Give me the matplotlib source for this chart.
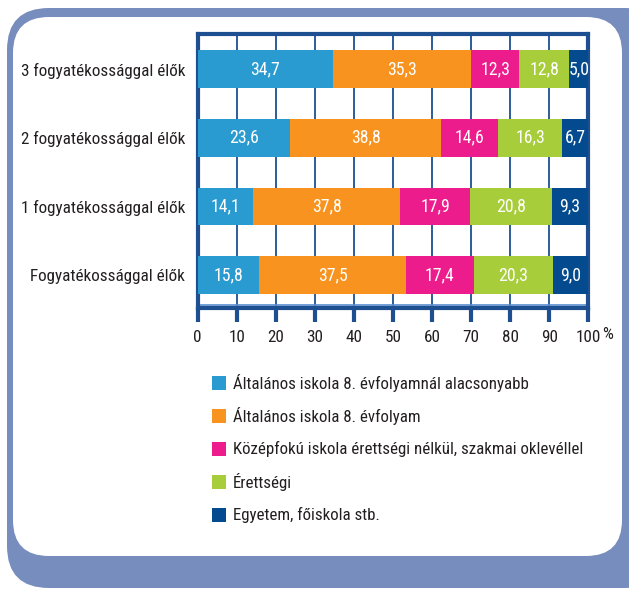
import matplotlib
matplotlib.use("Agg")
import matplotlib.pyplot as plt
from matplotlib.patches import FancyBboxPatch, Rectangle
from matplotlib.transforms import offset_copy
import numpy as np

plt.rcParams['font.family'] = ['Roboto Condensed', 'DejaVu Sans']

# data (bottom to top)
categories = ["Fogyatékossággal élők", "1 fogyatékossággal élők",
              "2 fogyatékossággal élők", "3 fogyatékossággal élők"]
series_names = ["Általános iskola 8. évfolyamnál alacsonyabb",
                "Általános iskola 8. évfolyam",
                "Középfokú iskola érettségi nélkül, szakmai oklevéllel",
                "Érettségi",
                "Egyetem, főiskola stb."]
below8 = [15.8, 14.1, 23.6, 34.7]
general8 = [37.5, 37.8, 38.8, 35.3]
vocational = [17.4, 17.9, 14.6, 12.3]
matura = [20.3, 20.8, 16.3, 12.8]
university = [9.0, 9.3, 6.7, 5.0]
series = [below8, general8, vocational, matura, university]
colors = ["#2a9bd1", "#f7931e", "#ec1c8c", "#a7cd3a", "#034b8e"]
xticks = [0, 10, 20, 30, 40, 50, 60, 70, 80, 90, 100]

dark = "#1d4f91"
frame = "#768dbd"
txt = "#231f20"
fs = 12.3

fig = plt.figure(figsize=(6.29, 5.9), dpi=100, facecolor="white")

# background frames (inch coords so corners stay round)
outer = FancyBboxPatch((0.07, 0.02), 6.6, 5.80, boxstyle="round,pad=0,rounding_size=0.42",
                       transform=fig.dpi_scale_trans, facecolor=frame, edgecolor="none", zorder=0)
inner = FancyBboxPatch((0.13, 0.34), 6.09, 5.39, boxstyle="round,pad=0,rounding_size=0.36",
                       transform=fig.dpi_scale_trans, facecolor="white", edgecolor="none", zorder=1)
fig.patches.extend([outer, inner])

ax = fig.add_axes([197.7 / 629, (590 - 307.5) / 590, (588.3 - 197.7) / 629, (307.5 - 34) / 590])
ax.set_zorder(2)
ax.set_facecolor("white")

y = np.arange(len(categories))
left = np.zeros(len(categories))
for vals, col, name in zip(series, colors, series_names):
    vals = np.array(vals)
    ax.barh(y, vals, left=left, height=0.55, color=col, label=name, zorder=3)
    for yi, l, v in zip(y, left, vals):
        ax.text(l + v / 2, yi, f"{v:.1f}".replace(".", ","), ha="center", va="center",
                color="white", fontsize=12.8, zorder=4)
    left += vals

ax.set_xlim(0, 100)
ax.set_ylim(-0.47, 3.51)
ax.set_xticks(xticks)
ax.set_xticklabels([str(t) for t in xticks])
pct_tr = offset_copy(ax.transAxes, fig=fig, x=14, y=0, units="dots")
ax.text(1.0, -0.1, "%", transform=pct_tr, ha="left", va="center", fontsize=fs, color=txt)
ax.set_yticks(y)
ax.set_yticklabels(categories)
ax.tick_params(axis="y", length=0, pad=9, labelsize=fs, labelcolor=txt)
ax.tick_params(axis="x", direction="out", length=10, width=3, color=dark, pad=6,
               labelsize=fs, labelcolor=txt)
ax.xaxis.grid(True, color=dark, linewidth=1.3, zorder=1)
ax.set_axisbelow(True)
for s in ax.spines.values():
    s.set_color(dark)
    s.set_linewidth(3)
ax.axhline(-0.47 + 0.035, color="#5a8fcf", linewidth=1.2, zorder=2)

# legend
leg_y = [383, 416, 449, 482, 515]
for name, col, yy in zip(series_names, colors, leg_y):
    fig.patches.append(Rectangle((212 / 629, (590 - yy - 7) / 590), 14 / 629, 14 / 590,
                                 transform=fig.transFigure, facecolor=col, edgecolor="none",
                                 zorder=3))
    fig.text(233 / 629, (590 - yy) / 590, name, ha="left", va="center", fontsize=12.2,
             color=txt, zorder=3)

fig.savefig("out.png", dpi=100, facecolor="white")
